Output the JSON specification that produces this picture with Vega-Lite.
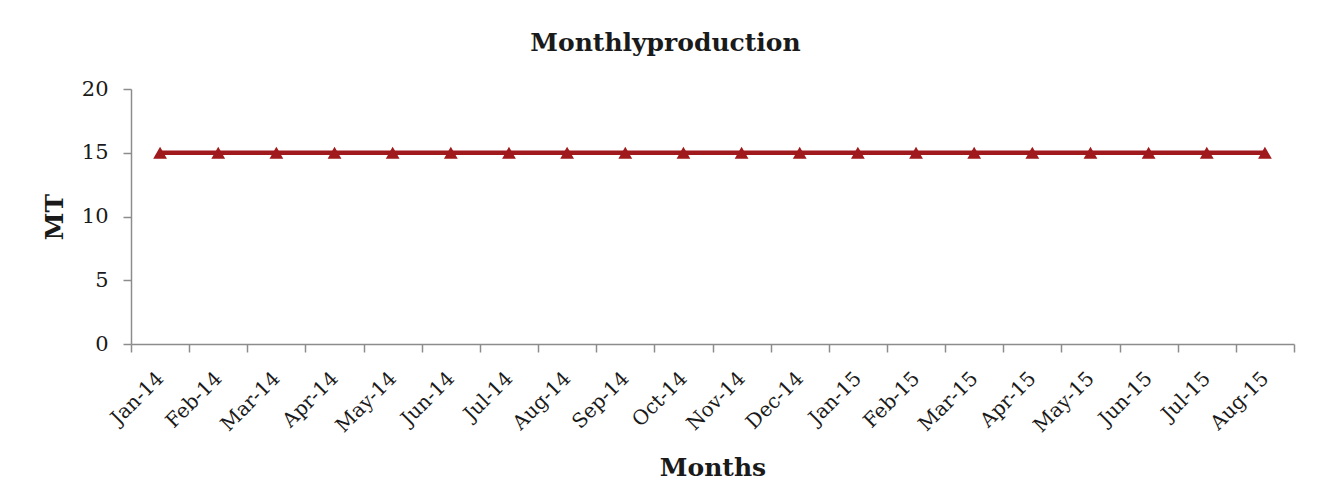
{
  "$schema": "https://vega.github.io/schema/vega-lite/v6.json",
  "width": 1163,
  "height": 255,
  "autosize": {"type": "none"},
  "padding": {"left": 131, "top": 89, "right": 27, "bottom": 160},
  "background": "white",
  "title": {
    "text": "Monthlyproduction",
    "font": "DejaVu Serif",
    "fontSize": 25,
    "fontWeight": "bold",
    "color": "#1a1a1a",
    "anchor": "middle",
    "dx": -47,
    "offset": 22
  },
  "data": {
    "values": [
      {"month": "Jan-14", "mt": 15},
      {"month": "Feb-14", "mt": 15},
      {"month": "Mar-14", "mt": 15},
      {"month": "Apr-14", "mt": 15},
      {"month": "May-14", "mt": 15},
      {"month": "Jun-14", "mt": 15},
      {"month": "Jul-14", "mt": 15},
      {"month": "Aug-14", "mt": 15},
      {"month": "Sep-14", "mt": 15},
      {"month": "Oct-14", "mt": 15},
      {"month": "Nov-14", "mt": 15},
      {"month": "Dec-14", "mt": 15},
      {"month": "Jan-15", "mt": 15},
      {"month": "Feb-15", "mt": 15},
      {"month": "Mar-15", "mt": 15},
      {"month": "Apr-15", "mt": 15},
      {"month": "May-15", "mt": 15},
      {"month": "Jun-15", "mt": 15},
      {"month": "Jul-15", "mt": 15},
      {"month": "Aug-15", "mt": 15}
    ]
  },
  "mark": {
    "type": "line",
    "color": "#A0191C",
    "strokeWidth": 4.5,
    "point": {"shape": "triangle-up", "size": 190, "filled": true, "color": "#A0191C", "opacity": 1}
  },
  "encoding": {
    "x": {
      "field": "month",
      "type": "ordinal",
      "sort": null,
      "scale": {"type": "band", "paddingInner": 0, "paddingOuter": 0},
      "axis": {
        "title": "Months",
        "labelAngle": -45,
        "labelAlign": "right",
        "labelBaseline": "middle",
        "labelFontSize": 20,
        "labelPadding": 23,
        "tickBand": "extent",
        "titlePadding": 20
      }
    },
    "y": {
      "field": "mt",
      "type": "quantitative",
      "scale": {"domain": [0, 20], "nice": false},
      "axis": {
        "title": "MT",
        "values": [0, 5, 10, 15, 20],
        "grid": false,
        "labelFontSize": 21,
        "labelPadding": 15,
        "titlePadding": 14
      }
    }
  },
  "config": {
    "view": {"stroke": null},
    "axis": {
      "domainColor": "#8c8c8c",
      "domainWidth": 1.5,
      "tickColor": "#8c8c8c",
      "tickWidth": 1.5,
      "tickSize": 8,
      "labelFont": "DejaVu Serif",
      "labelColor": "#1a1a1a",
      "titleFont": "DejaVu Serif",
      "titleFontSize": 25,
      "titleFontWeight": "bold",
      "titleColor": "#1a1a1a"
    }
  }
}
